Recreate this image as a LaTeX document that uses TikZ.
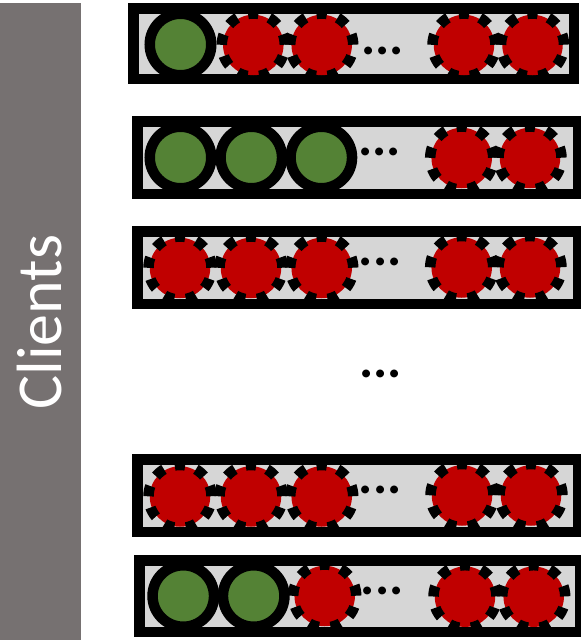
\documentclass[tikz,border=0pt]{standalone}
\usepackage{fontspec}
\setmainfont{Carlito}
\definecolor{barcol}{HTML}{767171}
\definecolor{boxgray}{HTML}{D6D6D6}
\definecolor{cgreen}{HTML}{548235}
\definecolor{cred}{HTML}{C00000}
\begin{document}
\begin{tikzpicture}[x=1pt,y=1pt,
  rowbox/.style={draw=black, line width=10.5pt, fill=boxgray},
  greenc/.style={circle, draw=black, line width=10.5pt, fill=cgreen, minimum size=61.5pt, inner sep=0pt, outer sep=0pt},
  redc/.style={circle, fill=cred, minimum size=60.5pt, inner sep=0pt, outer sep=0pt},
  reddash/.style={draw=black, line width=10.5pt, dash pattern=on 10.5pt off 11.49pt, dash phase=21.7pt},
  dotstext/.style={font=\bfseries\fontsize{53}{53}\selectfont, inner sep=0pt, anchor=base west}
]
\useasboundingbox (0,0) rectangle (581,-640);
% side bar
\fill[barcol] (0,-3) rectangle (81,-640);
\node[rotate=90, text=white, font=\fontsize{64}{64}\selectfont, inner sep=0pt] (clients) at (40,-322) {Clients};

% row 1
\draw[rowbox] (133.25,-8.25) rectangle (573.75,-78.75);
\node[greenc] (r1a) at (180.5,-44.5) {};
\node[redc] (r1b) at (253.3,-45) {};
\node[redc] (r1c) at (321.7,-45) {};
\node[dotstext] (r1d) at (361,-54.4) {...};
\node[redc] (r1e) at (464,-45) {};
\node[redc] (r1f) at (532.5,-45) {};

% row 2
\draw[rowbox] (137.25,-121.25) rectangle (577.75,-193.75);
\node[greenc] (r2a) at (180.5,-157.5) {};
\node[greenc] (r2b) at (251.3,-157.5) {};
\node[greenc] (r2c) at (321.3,-157.5) {};
\node[dotstext] (r2d) at (358,-155.4) {...};
\node[redc] (r2e) at (461.7,-158) {};
\node[redc] (r2f) at (530,-158) {};

% row 3
\draw[rowbox] (137.25,-231.25) rectangle (577.75,-303.75);
\node[redc] (r3a) at (180,-268) {};
\node[redc] (r3b) at (251,-268) {};
\node[redc] (r3c) at (321.7,-268) {};
\node[dotstext] (r3d) at (358.7,-265.4) {...};
\node[redc] (r3e) at (461.7,-267.5) {};
\node[redc] (r3f) at (530,-267.5) {};

% middle dots
\node[dotstext] (mid) at (359,-377.7) {...};

% row 4
\draw[rowbox] (137.25,-459.25) rectangle (577.75,-531.75);
\node[redc] (r4a) at (180,-496.5) {};
\node[redc] (r4b) at (251,-496.5) {};
\node[redc] (r4c) at (321.7,-496.5) {};
\node[dotstext] (r4d) at (358.7,-493.7) {...};
\node[redc] (r4e) at (462,-495.5) {};
\node[redc] (r4f) at (531,-495.5) {};

% row 5
\draw[rowbox] (139.25,-560.25) rectangle (579.75,-631.75);
\node[greenc] (r5a) at (183.3,-596) {};
\node[greenc] (r5b) at (253.7,-596) {};
\node[redc] (r5c) at (324.7,-596) {};
\node[dotstext] (r5d) at (360.7,-594.4) {...};
\node[redc] (r5e) at (465,-596.7) {};
\node[redc] (r5f) at (533.7,-596.7) {};

% dashed outlines of the red circles
\foreach \n in {r1b,r1c,r1e,r1f,r2e,r2f,r3a,r3b,r3c,r3e,r3f,r4a,r4b,r4c,r4e,r4f,r5c,r5e,r5f}
  \draw[reddash] (\n.center) circle (31.5pt);
\end{tikzpicture}
\end{document}
